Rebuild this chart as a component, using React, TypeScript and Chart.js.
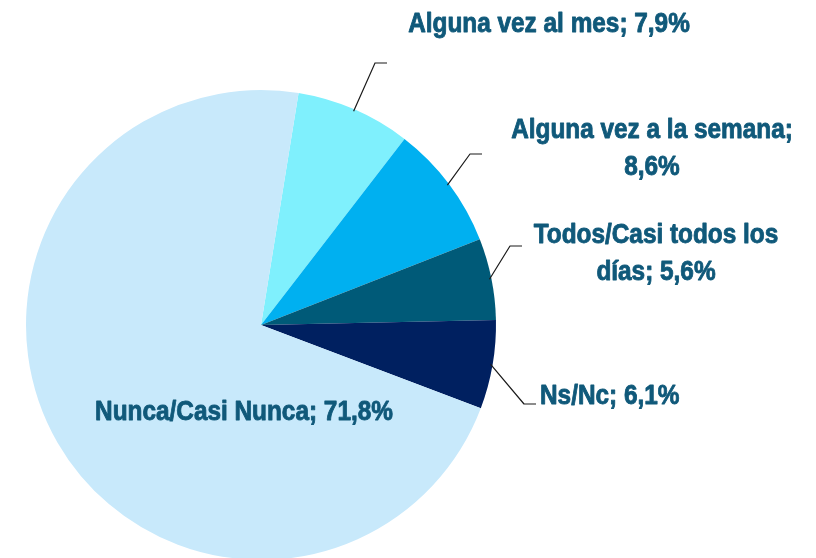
import React, { useEffect, useRef } from "react";
import { Chart, registerables } from "chart.js";

Chart.register(...registerables);

// ---- data ----
const categories = [
  "Alguna vez al mes",
  "Alguna vez a la semana",
  "Todos/Casi todos los días",
  "Ns/Nc",
  "Nunca/Casi Nunca",
];
const values = [7.9, 8.6, 5.6, 6.1, 71.8];
const colors = ["#7FF0FD", "#00B0F0", "#005A78", "#002060", "#C8E9FB"];

// ---- label layout (positions of text and leader elbows) ----
type LabelLayout = { x: number; y: number; align: CanvasTextAlign; maxW: number; elbow: [number, number] | null };
const labelLayout: LabelLayout[] = [
  { x: 549, y: 32, align: "center", maxW: 1000, elbow: [375, 63] },
  { x: 652, y: 138, align: "center", maxW: 300, elbow: [470, 154] },
  { x: 656, y: 243, align: "center", maxW: 262, elbow: [510, 246] },
  { x: 540, y: 404, align: "left", maxW: 1000, elbow: [524, 404] },
  { x: 244, y: 420, align: "center", maxW: 1000, elbow: null },
];

const FONT = 'bold 28px "Liberation Sans", Arial, sans-serif';
const SCALE_X = 0.87;
const TEXT_COLOR = "#10597A";
const LINE_HEIGHT = 37;

const fmt = (v: number) => v.toFixed(1).replace(".", ",") + "%";

function wrap(ctx: CanvasRenderingContext2D, text: string, maxW: number): string[] {
  const words = text.split(" ");
  const lines: string[] = [];
  let cur = "";
  for (const w of words) {
    const test = cur ? cur + " " + w : w;
    if (cur && ctx.measureText(test).width * SCALE_X > maxW) {
      lines.push(cur);
      cur = w;
    } else cur = test;
  }
  if (cur) lines.push(cur);
  return lines;
}

const labelPlugin = {
  id: "pieLabels",
  afterDraw(chart: any) {
    const ctx: CanvasRenderingContext2D = chart.ctx;
    const meta = chart.getDatasetMeta(0);
    ctx.save();
    meta.data.forEach((arc: any, i: number) => {
      const lay = labelLayout[i];
      const { x, y, startAngle, endAngle, outerRadius } = arc.getProps(
        ["x", "y", "startAngle", "endAngle", "outerRadius"],
        true
      );
      if (lay.elbow) {
        const mid = (startAngle + endAngle) / 2;
        const r = outerRadius - 2;
        const sx = x + Math.cos(mid) * r;
        const sy = y + Math.sin(mid) * r;
        ctx.beginPath();
        ctx.strokeStyle = "#1a1a1a";
        ctx.lineWidth = 1.2;
        ctx.moveTo(sx, sy);
        ctx.lineTo(lay.elbow[0], lay.elbow[1]);
        ctx.lineTo(lay.elbow[0] + 12, lay.elbow[1]);
        ctx.stroke();
      }
      ctx.font = FONT;
      ctx.fillStyle = TEXT_COLOR;
      ctx.strokeStyle = TEXT_COLOR;
      ctx.lineWidth = 0.9;
      ctx.lineJoin = "round";
      ctx.textAlign = lay.align;
      ctx.textBaseline = "alphabetic";
      const text = categories[i] + "; " + fmt(values[i]);
      const lines = wrap(ctx, text, lay.maxW);
      lines.forEach((ln, k) => {
        ctx.save();
        ctx.translate(lay.x, lay.y + k * LINE_HEIGHT);
        ctx.scale(SCALE_X, 1);
        ctx.fillText(ln, 0, 0);
        ctx.strokeText(ln, 0, 0);
        ctx.restore();
      });
    });
    ctx.restore();
  },
};

export default function App() {
  const ref = useRef<HTMLCanvasElement | null>(null);
  useEffect(() => {
    if (!ref.current) return;
    const chart = new Chart(ref.current, {
      type: "pie",
      data: {
        labels: categories,
        datasets: [
          {
            data: values,
            backgroundColor: colors,
            borderWidth: 0,
          },
        ],
      },
      options: {
        responsive: false,
        animation: false,
        rotation: 9.2,
        layout: { padding: { left: 26, top: 90, right: 320, bottom: 0 } },
        plugins: { legend: { display: false }, tooltip: { enabled: false } },
      },
      plugins: [labelPlugin],
    });
    return () => chart.destroy();
  }, []);
  return (
    <div style={{ position: "fixed", left: 0, top: 0, width: 816, height: 560, background: "#fff", overflow: "hidden" }}>
      <canvas ref={ref} width={816} height={560} style={{ width: 816, height: 560 }} />
    </div>
  );
}
